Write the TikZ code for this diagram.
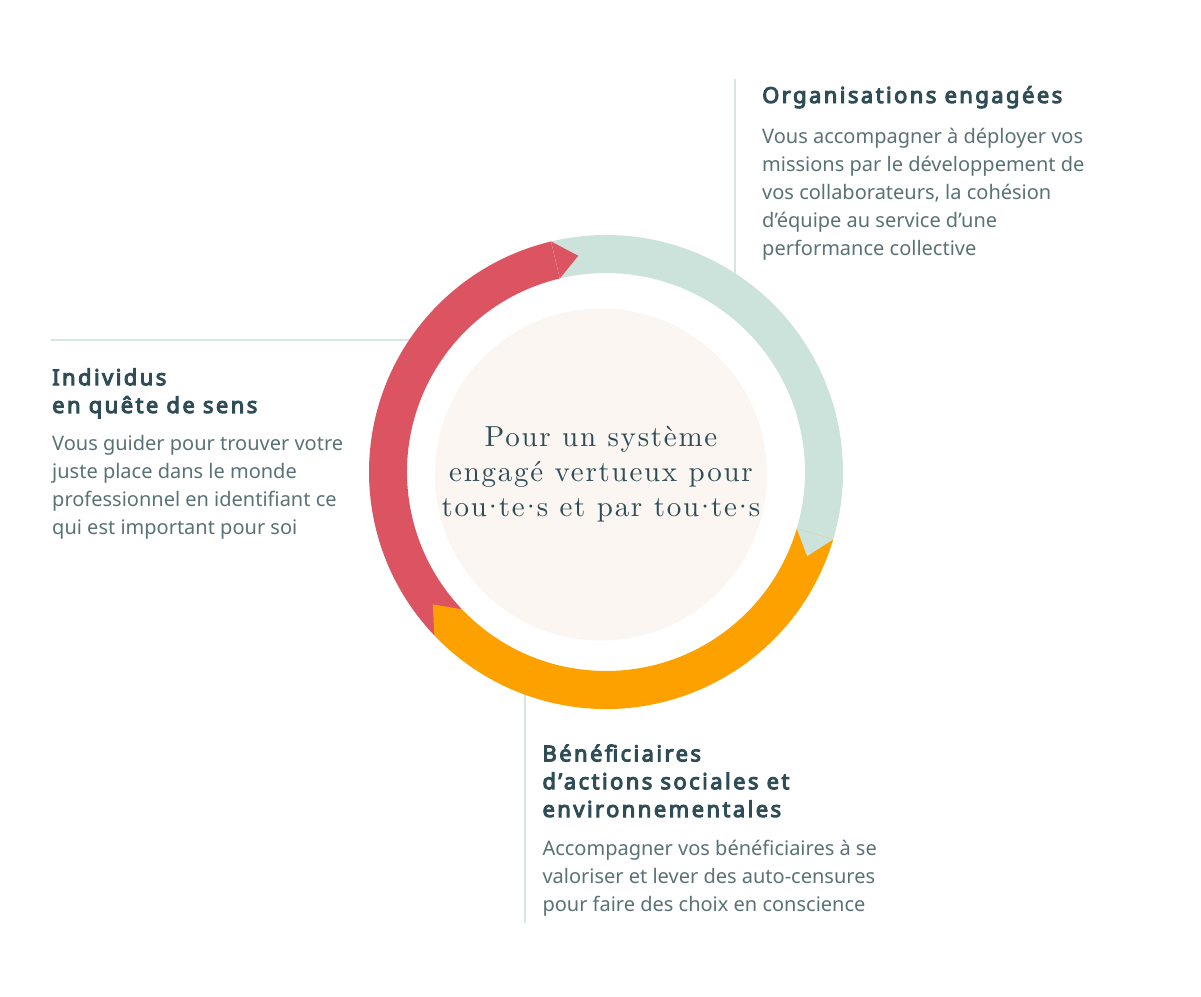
\documentclass[tikz,border=0pt]{standalone}
\usepackage{fontspec}
\setmainfont{Noto Sans}
\newfontfamily\titlefont{Noto Sans}[LetterSpace=11, FakeBold=4.5]
\newfontfamily\centerfont{lmroman10-regular.otf}[LetterSpace=6]
\newcommand{\mdot}{\kern-5.3pt·\kern-5.3pt}
\definecolor{ringred}{HTML}{DC5462}
\definecolor{ringteal}{HTML}{CCE3DC}
\definecolor{ringorange}{HTML}{FDA100}
\definecolor{diskbeige}{HTML}{FBF6F2}
\definecolor{titlecol}{HTML}{2E4D56}
\definecolor{bodycol}{HTML}{5A7276}
\definecolor{linecol}{HTML}{D6E7E2}
\def\cx{606}\def\cy{-472}
\newcommand{\ringseg}[3]{%
  \fill[#1] ([shift={(\cx,\cy)}]#2:237) arc[start angle=#2, end angle=#3, radius=237pt]
    -- ([shift={(\cx,\cy)}]#3:199) arc[start angle=#3, end angle=#2, radius=199pt] -- cycle;}
\newcommand{\ringtip}[3]{%
  \fill[#1] ([shift={(\cx,\cy)}]#2:237) -- ([shift={(\cx,\cy)}]#3:218)
    -- ([shift={(\cx,\cy)}]#2:199) -- cycle;}
\begin{document}
\begin{tikzpicture}[x=1pt,y=1pt,
  titletext/.style={anchor=base west, inner sep=0pt, align=left, text=titlecol,
    font=\titlefont\fontsize{22}{27.8}\selectfont},
  bodytext/.style={anchor=base west, inner sep=0pt, align=left, text=bodycol,
    font=\fontsize{20}{28}\selectfont},
  sepline/.style={draw=linecol, line width=2pt},
  centertext/.style={anchor=base, inner sep=0pt, align=center, text=titlecol,
    font=\centerfont\fontsize{29}{35}\selectfont}]
\useasboundingbox[fill=white] (0,0) rectangle (1201,-996);

% separator lines
\coordinate (tlA) at (735,-79);   \coordinate (tlB) at (735,-295);
\coordinate (hlA) at (51,-339.5); \coordinate (hlB) at (430,-339.5);
\coordinate (blA) at (525,-675);  \coordinate (blB) at (525,-922.6);
\draw[sepline] (tlA) -- (tlB);
\draw[sepline] (hlA) -- (hlB);
\draw[sepline] (blA) -- (blB);

% ring
\ringseg{ringred}{223.6}{103.4}
\ringseg{ringteal}{103.4}{-16.5}
\ringseg{ringorange}{343.5}{223.6}
\ringtip{ringred}{103.4}{97.3}
\ringtip{ringteal}{-16.5}{-22.7}
\ringtip{ringorange}{223.6}{217.4}

% centre disk (anchor base = last line)
\node[circle, fill=diskbeige, minimum size=332pt, inner sep=0pt] (disk) at (601,-474.5) {};
\node[centertext] (ctext) at (601,-516.7) {Pour un système\\engagé vertueux pour\\tou\mdot te\mdot s et par tou\mdot te\mdot s};

% text blocks (anchor base = last line's baseline)
\node[titletext] (orgT) at (762,-103) {Organisations engagées};
\node[bodytext] (orgB) at (762,-255) {Vous accompagner à déployer vos\\missions par le développement de\\vos collaborateurs, la cohésion\\d’équipe au service d’une\\performance collective};

\node[titletext] (indT) at (52,-413) {Individus\\en quête de sens};
\node[bodytext] (indB) at (52,-534.5) {Vous guider pour trouver votre\\juste place dans le monde\\professionnel en identifiant ce\\qui est important pour soi};

\node[titletext] (benT) at (542.3,-817) {Bénéficiaires\\d’actions sociales et\\environnementales};
\node[bodytext] (benB) at (542.3,-911.7) {Accompagner vos bénéficiaires à se\\valoriser et lever des auto-censures\\pour faire des choix en conscience};
\end{tikzpicture}
\end{document}
